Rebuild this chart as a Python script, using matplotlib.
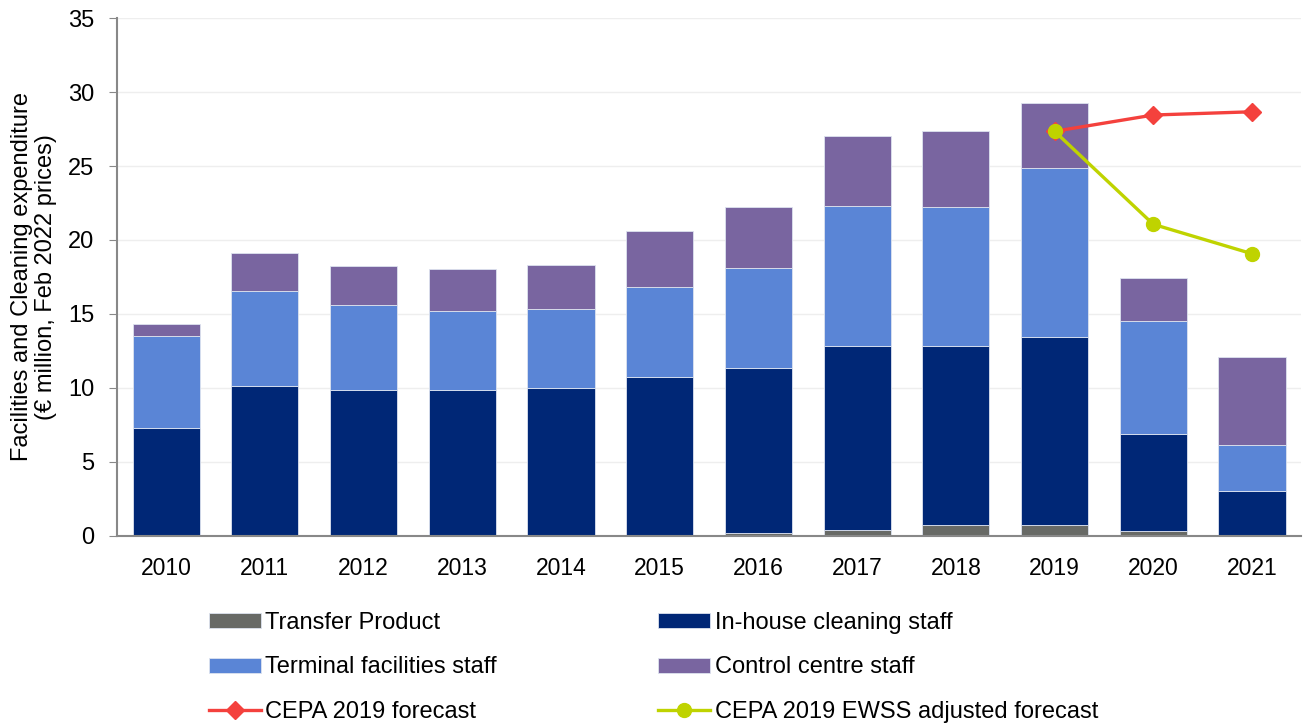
import matplotlib.pyplot as plt
import numpy as np

plt.rcParams['font.family'] = ['Liberation Sans', 'DejaVu Sans']

years = ['2010', '2011', '2012', '2013', '2014', '2015',
         '2016', '2017', '2018', '2019', '2020', '2021']

# expenditure by component, € million (Feb 2022 prices)
transfer = [0, 0, 0, 0, 0, 0, 0.2, 0.4, 0.75, 0.75, 0.35, 0.02]
inhouse = [7.3, 10.1, 9.85, 9.85, 10.0, 10.75, 11.15, 12.45, 12.05, 12.7, 6.55, 3.03]
terminal = [6.2, 6.45, 5.75, 5.35, 5.35, 6.05, 6.75, 9.45, 9.4, 11.45, 7.6, 3.1]
control = [0.8, 2.55, 2.65, 2.85, 2.95, 3.8, 4.1, 4.7, 5.15, 4.35, 2.95, 5.95]

# forecasts (2019-2021)
fc_years = ['2019', '2020', '2021']
cepa_forecast = [27.35, 28.45, 28.67]
ewss_forecast = [27.35, 21.06, 19.07]

x = np.arange(len(years))
fx = [years.index(y) for y in fc_years]

fig = plt.figure(figsize=(13.04, 7.26), dpi=100)
ax = fig.add_axes([0.0895, 0.262, 0.9085, 0.713])

w = 0.68
edge = dict(edgecolor='#dde3ef', linewidth=0.6)
b1 = ax.bar(x, transfer, w, color='#686A66', label='Transfer Product', **edge, zorder=2)
bottom = np.array(transfer)
b2 = ax.bar(x, inhouse, w, bottom=bottom, color='#002776', label='In-house cleaning staff', **edge, zorder=2)
bottom = bottom + np.array(inhouse)
b3 = ax.bar(x, terminal, w, bottom=bottom, color='#5A85D6', label='Terminal facilities staff', **edge, zorder=2)
bottom = bottom + np.array(terminal)
b4 = ax.bar(x, control, w, bottom=bottom, color='#7965A0', label='Control centre staff', **edge, zorder=2)

l1, = ax.plot(fx, cepa_forecast, color='#F4413D', lw=2.4, marker='D', markersize=9,
              label='CEPA 2019 forecast', zorder=3)
l2, = ax.plot(fx, ewss_forecast, color='#BFD300', lw=2.4, marker='o', markersize=10,
              label='CEPA 2019 EWSS adjusted forecast', zorder=4)

ax.set_xlim(-0.5, len(years) - 0.5)
ax.set_ylim(0, 35)
ax.set_yticks(range(0, 36, 5))
ax.set_xticks(x)
ax.set_xticklabels(years)
ax.tick_params(axis='both', colors='#888888', labelcolor='black')
ax.tick_params(axis='x', length=0, pad=15, labelsize=16.5)
ax.tick_params(axis='y', length=6, pad=10, labelsize=17)
ax.grid(axis='y', color='#eeeeee', lw=1, zorder=0)
for s in ['top', 'right']:
    ax.spines[s].set_visible(False)
for s in ['left', 'bottom']:
    ax.spines[s].set_color('#888888')
    ax.spines[s].set_linewidth(1.5)

ax.set_ylabel('Facilities and Cleaning expenditure\n(€ million, Feb 2022 prices)',
              fontsize=17, labelpad=8, linespacing=1.1)

handles = [b1, b3, l1, b2, b4, l2]
fig.legend(handles=handles, labels=[h.get_label() for h in handles],
           ncol=2, loc='upper left', bbox_to_anchor=(0.160, 0.157),
           frameon=False, fontsize=17, handlelength=2.2, handleheight=0.6,
           handletextpad=0.2, labelspacing=0.95, columnspacing=6.83,
           borderpad=0, borderaxespad=0)

fig.savefig('out.png', dpi=100)
